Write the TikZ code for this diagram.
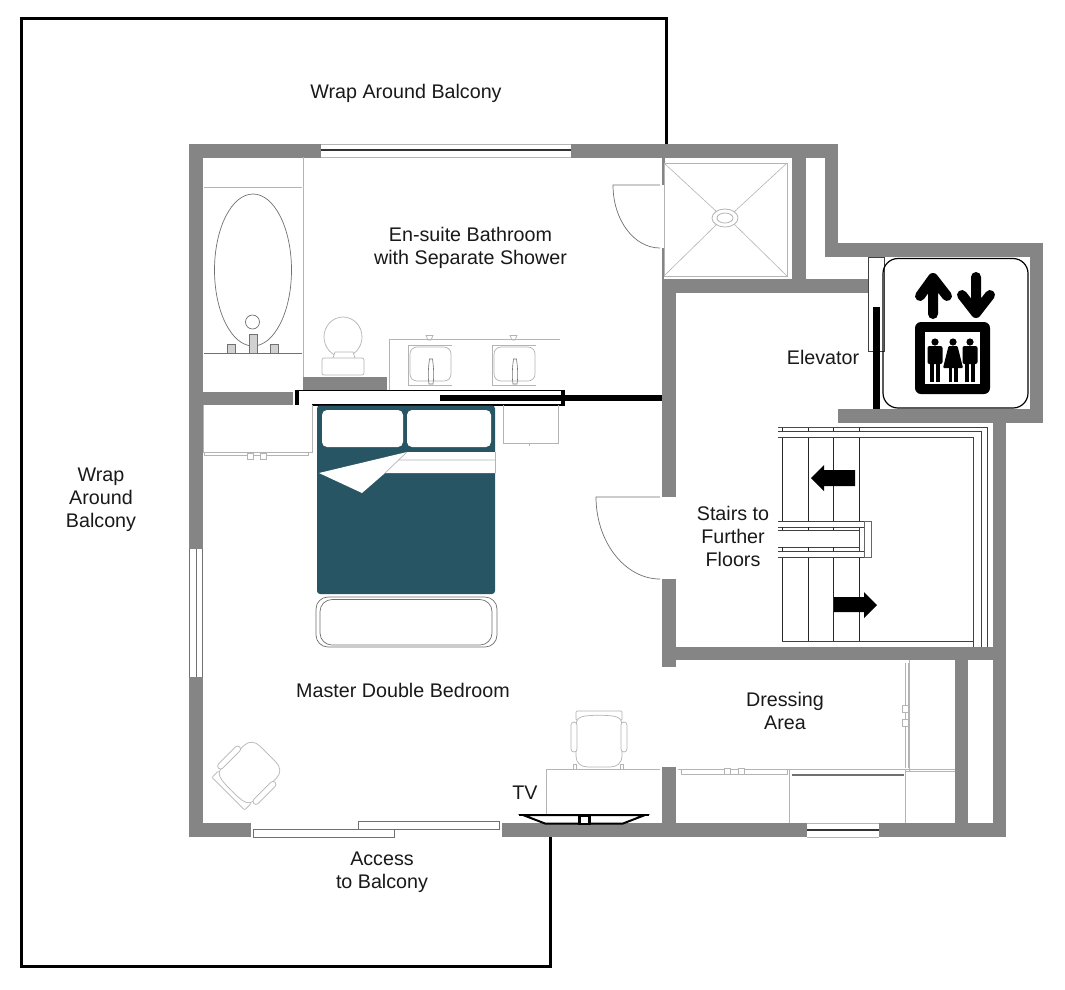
\documentclass[tikz,border=0pt]{standalone}
\usepackage{fontspec}
\setmainfont{Liberation Sans}
\definecolor{wallc}{HTML}{858585}
\definecolor{teal}{HTML}{285563}
\definecolor{fixt}{HTML}{B4B4B4}
\definecolor{mid}{HTML}{707070}
\newcommand{\wallbox}[4]{\fill[wallc] (#1,#2) rectangle (#3,#4);}
\newcommand{\personm}[1]{%
  \fill[black] (#1,342) circle [radius=3.6];
  \fill[black,rounded corners=2] (#1-7.5,346) rectangle (#1+7.5,364);
  \fill[black] (#1-5,362) rectangle (#1-0.7,382);
  \fill[black] (#1+0.7,362) rectangle (#1+5,382);}
\newcommand{\chairshape}{%
  \draw[fixt,line width=.7,rounded corners=1] (-23,-32) rectangle (23,-23);
  \draw[fixt,line width=.7,fill=white] (-23,-17) .. controls (-23,-24) and (-20,-26) .. (-14,-27) .. controls (-5,-28) and (5,-28) .. (14,-27) .. controls (20,-26) and (23,-24) .. (23,-17) -- (23,13) .. controls (23,20) and (18,24) .. (11,24) -- (-11,24) .. controls (-18,24) and (-23,20) .. (-23,13) -- cycle;
  \draw[fixt,line width=.7,fill=white,rounded corners=3] (-28,-21) rectangle (-22,9);
  \draw[fixt,line width=.7,fill=white,rounded corners=3] (22,-21) rectangle (28,9);}
\begin{document}
\begin{tikzpicture}[x=1pt,y=-1pt,
  label/.style={font=\fontsize{19.7}{23}\selectfont,text=black!90,inner sep=0,align=center},
  fx/.style={draw=fixt,line width=.7},
  thin/.style={draw=mid,line width=.7}]
\useasboundingbox (0,0) rectangle (1065,989);
\fill[white] (0,0) rectangle (1065,989);
% balcony outline
\draw[black,line width=3,line join=miter] (666,144) -- (666,18) -- (21,18) -- (21,966) -- (550,966) -- (550,837);
% walls
\wallbox{189}{144}{321}{157.5}
\wallbox{571}{144}{838}{157.5}
\wallbox{189}{144}{202.5}{549}
\wallbox{189}{677}{202.5}{837}
\wallbox{189}{823}{251}{837}
\wallbox{202}{392}{293}{405}
\wallbox{303}{377}{387}{390}
\wallbox{825}{144}{838}{257}
\wallbox{825}{243}{1043}{257}
\wallbox{1030}{243}{1043}{423}
\wallbox{838}{409}{1043}{423}
\wallbox{993}{423}{1006}{837}
\wallbox{792}{157}{806}{292}
\wallbox{662}{279}{868}{293}
\wallbox{662}{279}{676}{497}
\wallbox{662}{579}{676}{667}
\wallbox{662}{647}{1006}{660}
\wallbox{662}{767}{676}{823}
\wallbox{955}{660}{968}{823}
\wallbox{502}{823}{807}{837}
\wallbox{879}{823}{1006}{837}
\wallbox{661.5}{157}{665}{185}
\wallbox{661.5}{248}{664}{279}
% windows
\draw[fixt,line width=.7] (321,144) -- (571,144) (321,157.5) -- (571,157.5);
\draw[black!80,line width=1.4] (321,150) -- (571,150);
\draw[mid,line width=.8] (189.5,549) -- (189.5,677) (196,549) -- (196,677) (202.5,549) -- (202.5,677);
\draw[fixt,line width=.7] (807,823) -- (879,823) (807,837) -- (879,837);
\draw[black!80,line width=1.2] (807,830) -- (879,830);
% sliding door
\draw[mid,line width=1,fill=white] (253,829) rectangle (394,837);
\draw[mid,line width=1,fill=white] (358,821) rectangle (499,829);
% bathroom fixtures
\draw[fixt,line width=1] (303,157) -- (303,377);
\draw[fixt,line width=.8] (204,187) -- (302,187);
\draw[mid,line width=.8] (204,353) -- (302,353);
\draw[mid,line width=.7] (253,270) ellipse [x radius=38.5,y radius=76];
\fill[white] (252.5,322) circle [radius=7];
\draw[mid,line width=.7] (252.5,322) circle [radius=7];
\draw[mid,line width=.6,fill=black!18] (249,334) rectangle (257,353);
\draw[mid,line width=.6,fill=black!18] (227,344) rectangle (235,353);
\draw[mid,line width=.6,fill=black!18] (270,344) rectangle (278,353);
% toilet
\draw[fx] (343,337) ellipse [x radius=19,y radius=20];
\draw[fx,fill=white] (333,358) -- (335,352) -- (353,352) -- (355,358);
\draw[fx,fill=white,rounded corners=2] (322,358) rectangle (364,375);
% vanity
\draw[fx] (560,339) -- (389,339) -- (389,390);
\foreach \sx/\tx in {408/431,492/515}{
  \draw[fx] (\sx,345) -- (\sx+44,345) (\sx,385) -- (\sx+44,385) (\sx,345) -- (\sx,385);
  \draw[fx,rounded corners=7] (\sx+2,347) rectangle (\sx+43,381);
  \draw[mid,line width=.6] (\tx-1.5,359) .. controls (\tx-3,370) and (\tx-3,378) .. (\tx-2,384) -- (\tx+2,384) .. controls (\tx+3,378) and (\tx+3,370) .. (\tx+1.5,359) -- cycle;
  \draw[fx] (\tx-5,335.5) -- (\tx+2,335.5) -- (\tx,340) -- (\tx-3,340) -- cycle;
}
% shower
\draw[fixt,line width=.9] (664,163) rectangle (787,276);
\draw[fixt,line width=.6] (664,163) -- (717,212) (787,163) -- (734,212) (664,276) -- (717,224) (787,276) -- (734,224);
\draw[fixt,line width=.8] (725,218) ellipse [x radius=13,y radius=9];
\draw[fixt,line width=.8] (725,218) ellipse [x radius=8,y radius=5];
% doors
\draw[mid,line width=.7] (660,185) -- (613,185) .. controls (613,220) and (634,248) .. (660,248);
\draw[mid,line width=.7] (660,497) -- (596,497) .. controls (596,542) and (625,579) .. (660,579);
% partition with closet rail
\fill[black] (295,390) rectangle (298.5,405);
\draw[black,line width=1.3] (298,390.6) -- (565,390.6);
\fill[black] (561,390) rectangle (565,405);
\draw[black,line width=1.3] (312,405) -- (565,405);
\fill[black] (440,395) rectangle (662,401);
% night stands
\draw[fx] (203,405) -- (203,452) -- (312,452) -- (312,405);
\draw[fx] (204,452) -- (204,455) -- (308,455) -- (308,452);
\draw[fx,fill=white] (247,453) rectangle (253,459);
\draw[fx,fill=white] (260,453) rectangle (266,459);
\draw[fx] (503,405) -- (503,443) -- (558,443) -- (558,405);
\draw[fx] (529,443) -- (529,446);
% bed
\fill[teal,rounded corners=3] (317,405.5) rectangle (495,594);
\fill[white,rounded corners=5] (322,410) rectangle (403,447);
\fill[white,rounded corners=5] (407,410) rectangle (491,447);
\fill[white] (407,452) -- (495.5,452) -- (495.5,473) -- (385,473) -- (362,493) -- (319,473) -- cycle;
\draw[fixt,line width=.7] (399,460) -- (495.5,460) (407,452) -- (385,473) (495.5,452) -- (495.5,473);
\draw[mid,line width=.7,rounded corners=12] (316,597) rectangle (497,647);
\draw[mid,line width=.7,rounded corners=12] (320,599.5) rectangle (492,645);
% lift
\draw[black!75,line width=.9,fill=white] (868,257) rectangle (884.5,351);
\fill[black] (873,307) rectangle (880,409);
\draw[black,line width=1.2,rounded corners=15] (883,258.5) rectangle (1028,408);
\draw[black,line width=10,line cap=round,line join=round] (933,314) -- (933,278) (920,296) -- (933,278) -- (947,296);
\draw[black,line width=10,line cap=round,line join=round] (976,277) -- (976,313) (962,295) -- (976,313) -- (990,295);
\fill[black,rounded corners=6] (915,322) rectangle (990,394);
\fill[white] (925,332) rectangle (980,384);
\personm{935}
\personm{970}
\fill[black] (953,342) circle [radius=3.6];
\fill[black,rounded corners=1] (948.5,346) -- (957.5,346) -- (963,368) -- (943,368) -- cycle;
\fill[black] (948.5,366) rectangle (952.3,382);
\fill[black] (953.7,366) rectangle (957.5,382);
% stairs
\draw[black!85,line width=.9] (782,427) -- (782,641) (808,427) -- (808,641) (833,427) -- (833,641) (859,427) -- (859,641);
\draw[black!70,line width=.9] (778,427) -- (859,427);
\fill[white] (777,431) rectangle (972,437);
\draw[black!75,line width=.9] (778,431) -- (981,431) -- (981,647);
\draw[black!75,line width=.9] (778,437) -- (973,437) -- (973,647);
\draw[black!75,line width=.9] (859,427) -- (987,427) -- (987,647);
\draw[black!75,line width=1] (782,641) -- (973,641);
\fill[white] (777,521) rectangle (864,557);
\draw[black!75,line width=.9] (778,521) -- (864,521) (778,527) -- (864,527) (778,530) -- (859,530) (778,547) -- (859,547) (778,551) -- (864,551) (778,557) -- (864,557) (859,527) -- (859,551);
\draw[black!60,line width=.9,fill=white] (864,521) rectangle (871,557);
\draw[black!85,line width=.8] (782,527) -- (782,530) (808,527) -- (808,530) (833,527) -- (833,530) (782,547) -- (782,551) (808,547) -- (808,551) (833,547) -- (833,551);
\fill[black] (811,478) -- (824,465) -- (824,470) -- (855,470) -- (855,486) -- (824,486) -- (824,491) -- cycle;
\fill[black] (877,605) -- (864,592) -- (864,597) -- (834,597) -- (834,612) -- (864,612) -- (864,618) -- cycle;
% desk and chairs
\draw[fx] (546,814) -- (546,769) -- (660,769);
\fill[white] (575,765) rectangle (621,769);
\draw[fx] (573,764) rectangle (576,769) (620,764) rectangle (623,769);
\begin{scope}[shift={(599,743)}]\chairshape\end{scope}
\begin{scope}[shift={(251,771)},rotate=135]\chairshape\end{scope}
% TV
\draw[black,line width=2,fill=white,line join=miter] (523,815) -- (645,815) -- (623,823.5) -- (545,823.5) -- cycle;
\draw[black,line width=2.6] (519,815) -- (649,815);
\draw[black,line width=2.8,fill=white] (579.5,816) rectangle (589.5,824);
% dressing area
\draw[fx] (678,769) -- (955,769) (789,769) -- (789,823) (905,769) -- (905,823) (905,771) -- (955,771) (909,660) -- (909,771);
\draw[fx] (905.5,663) -- (905.5,768) (908,663) -- (908,768);
\draw[fx] (681,769) -- (681,774) -- (787,774) -- (787,769);
\draw[mid,line width=1.1] (792,775) -- (904,775);
\draw[fx,fill=white] (724,768) rectangle (730,774);
\draw[fx,fill=white] (738,768) rectangle (744,774);
\draw[fx,fill=white] (902,705) rectangle (908,712);
\draw[fx,fill=white] (902,719) rectangle (908,726);
% labels
\node[label] (balconytop) at (406,93) {Wrap Around Balcony};
\node[label] (balconyleft) at (101,500) {Wrap\\Around\\Balcony};
\node[label] (bath) at (470.5,247.5) {En-suite Bathroom\\with Separate Shower};
\node[label] (bedroom) at (403,690) {Master Double Bedroom};
\node[label] (elevator) at (823,357) {Elevator};
\node[label] (stairs) at (733,536) {Stairs to\\Further\\Floors};
\node[label] (dressing) at (785,711) {Dressing\\Area};
\node[label] (tv) at (525,793) {TV};
\node[label] (access) at (382,872.5) {Access\\to Balcony};
\end{tikzpicture}
\end{document}
